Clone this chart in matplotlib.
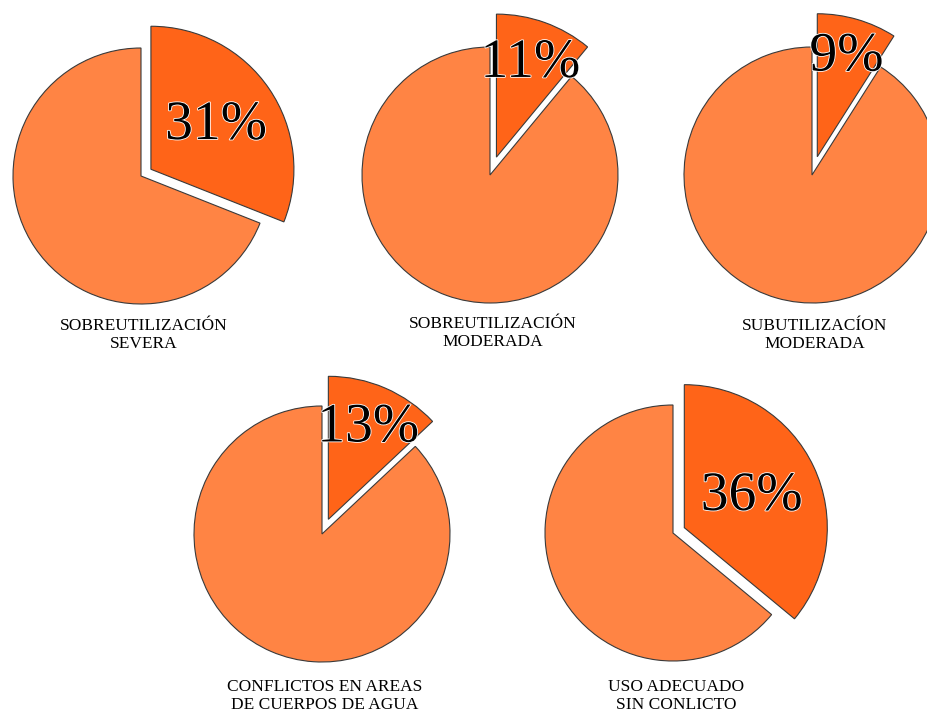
import numpy as np
import matplotlib.pyplot as plt
import matplotlib.patheffects as pe

categories = [
    "SOBREUTILIZACIÓN\nSEVERA",
    "SOBREUTILIZACIÓN\nMODERADA",
    "SUBUTILIZACÍON\nMODERADA",
    "CONFLICTOS EN AREAS\nDE CUERPOS DE AGUA",
    "USO ADECUADO\nSIN CONLICTO",
]
percentages = [31, 11, 9, 13, 36]

# layout in pixels, origin top-left
W, H = 928, 713
centers = [(141, 176), (490, 175), (812, 175), (322, 534), (673, 533)]
explode = [12, 19, 19, 16, 12.5]
label_y = [335, 333, 335, 696, 696]
pct_dist = [0.55, 0.70, 0.73, 0.70, 0.52]
R = 128
R_OUT = 143

LIGHT = "#FF8444"
DARK = "#FF6418"

fig = plt.figure(figsize=(9.28, 7.13), dpi=100)
ax = fig.add_axes([0, 0, 1, 1])

for name, p, (cx, cy), ex, ly, pd in zip(categories, percentages, centers,
                                         explode, label_y, pct_dist):
    wedges, _ = ax.pie([p, 100 - p], explode=[ex, 0], radius=R,
                       center=(cx, H - cy), startangle=90, counterclock=False,
                       colors=[DARK, LIGHT],
                       wedgeprops=dict(edgecolor="#3a3a3a", linewidth=0.8))
    w = wedges[0]
    w.set_radius(R_OUT)
    mid = np.deg2rad((w.theta1 + w.theta2) / 2)
    wx, wy = w.center
    ax.text(wx + pd * R_OUT * np.cos(mid), wy + pd * R_OUT * np.sin(mid),
            f"{p}%", ha="center", va="center", fontsize=40,
            family="Liberation Serif", color="black",
            path_effects=[pe.withStroke(linewidth=1.2, foreground="white")])
    ax.text(cx + 3, H - ly, name, ha="center", va="center", fontsize=12.5,
            family="Liberation Serif", linespacing=1.2, color="black")

ax.set_xlim(0, W)
ax.set_ylim(0, H)
ax.axis("off")
fig.savefig("out.png", dpi=100)
